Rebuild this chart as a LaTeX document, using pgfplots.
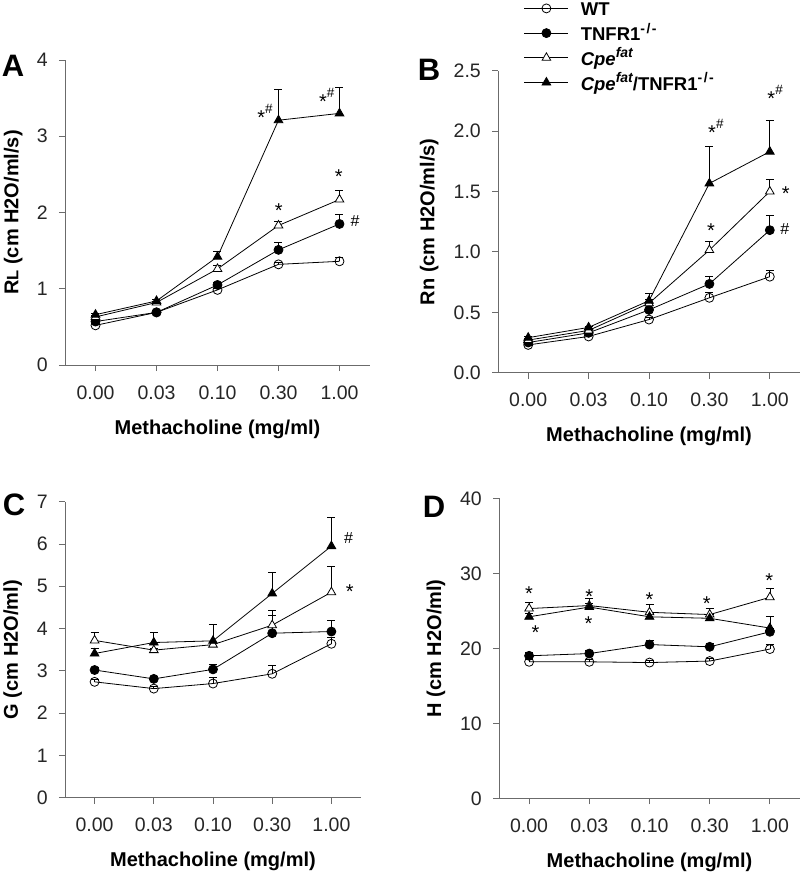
\documentclass[border=0pt]{standalone}
\usepackage{fontspec}
\setmainfont{Liberation Sans}
\usepackage{pgfplots}
\pgfplotsset{compat=1.18}
\definecolor{axgray}{gray}{0.42}
\pgfplotsset{
  panel/.style={
    scale only axis,
    clip=false,
    axis x line*=bottom, axis y line*=left,
    axis line style={axgray, line width=0.9bp},
    every tick/.style={axgray, line width=0.9bp},
    tick align=outside,
    major tick length=6bp,
    xmin=-0.5, xmax=4.5,
    xtick={0,1,2,3,4},
    xticklabels={0.00,0.03,0.10,0.30,1.00},
    /pgf/number format/assume math mode=true,
    tick label style={font=\fontsize{19.5bp}{20bp}\selectfont, text=black!85, inner sep=0pt},
    xticklabel style={anchor=center, yshift=-21.5bp},
    yticklabel style={anchor=east, xshift=-11bp},
    xlabel={Methacholine (mg/ml)},
    xlabel style={font=\bfseries\fontsize{20bp}{20bp}\selectfont, at={(axis description cs:0.5,0)}, anchor=center, yshift=-64bp},
    ylabel style={font=\bfseries\fontsize{20bp}{20bp}\selectfont, anchor=center},
    error bars/y dir=plus, error bars/y explicit,
    error bars/error bar style={black, line width=0.8bp, solid},
    error bars/error mark options={black, mark size=4bp, line width=0.8bp, rotate=90},
  },
  wt/.style={black, line width=0.8bp, mark=o, mark size=4.5bp, mark options={solid, black, fill=white, line width=0.8bp}},
  tn/.style={black, line width=0.8bp, mark=*, mark size=4.5bp, mark options={solid, black, fill=black}},
  cp/.style={black, line width=0.8bp, mark=triangle*, mark size=5bp, mark options={solid, black, fill=white, line width=0.8bp}},
  ct/.style={black, line width=0.8bp, mark=triangle*, mark size=5bp, mark options={solid, black, fill=black}},
}
\tikzset{
  ast/.style={font=\fontsize{20bp}{20bp}\selectfont, anchor=base, yshift=-11.5bp, inner sep=0pt},
  hsh/.style={font=\fontsize{16bp}{16bp}\selectfont, anchor=center, inner sep=0pt},
}
\newcommand{\sh}{\raisebox{11bp}{\fontsize{13.5bp}{13.5bp}\selectfont\#}}
\newcommand{\sps}[1]{\raisebox{7.5bp}{\fontsize{14bp}{14bp}\selectfont #1}}
\begin{document}
\begin{tikzpicture}
\path[use as bounding box] (0bp,0bp) rectangle (801bp,-873bp);
\node[font=\bfseries\fontsize{31bp}{31bp}\selectfont, anchor=center, inner sep=0pt] at (13bp,-66bp) {A};
\node[font=\bfseries\fontsize{31bp}{31bp}\selectfont, anchor=center, inner sep=0pt] at (429bp,-70bp) {B};
\node[font=\bfseries\fontsize{31bp}{31bp}\selectfont, anchor=center, inner sep=0pt] at (14bp,-505bp) {C};
\node[font=\bfseries\fontsize{31bp}{31bp}\selectfont, anchor=center, inner sep=0pt] at (434bp,-507bp) {D};

% ---------------- Panel A
\begin{axis}[panel, at={(65bp,-365bp)}, anchor=south west, width=305bp, height=305bp,
  ymin=0, ymax=4, ytick={0,1,2,3,4},
  ylabel={R{\fontsize{16.5bp}{16.5bp}\selectfont L} (cm H2O/ml/s)},
  ylabel style={at={([xshift=-51.7bp]axis description cs:0,0.5)}}]
\addplot[wt] coordinates {(0,0.52) +- (0,0.02) (1,0.69) +- (0,0.02) (2,0.985) +- (0,0.02) (3,1.32) +- (0,0.03) (4,1.36) +- (0,0.05)};
\addplot[tn] coordinates {(0,0.57) +- (0,0.02) (1,0.69) +- (0,0.02) (2,1.05) +- (0,0.03) (3,1.51) +- (0,0.10) (4,1.85) +- (0,0.12)};
\addplot[cp] coordinates {(0,0.63) +- (0,0.02) (1,0.82) +- (0,0.02) (2,1.26) +- (0,0.05) (3,1.83) +- (0,0.05) (4,2.17) +- (0,0.12)};
\addplot[ct] coordinates {(0,0.66) +- (0,0.02) (1,0.84) +- (0,0.02) (2,1.42) +- (0,0.07) (3,3.21) +- (0,0.40) (4,3.30) +- (0,0.34)};
\node[ast] at (axis cs:2.78,3.30) {*\sh};
\node[ast] at (axis cs:3.79,3.52) {*\sh};
\node[ast] at (axis cs:3.005,2.087) {*};
\node[ast] at (axis cs:3.99,2.537) {*};
\node[hsh] at (axis cs:4.257,1.894) {\#};
\end{axis}

% ---------------- Panel B
\begin{axis}[panel, at={(498bp,-372.7bp)}, anchor=south west, width=302bp, height=302bp,
  ymin=0, ymax=2.5, ytick={0,0.5,1,1.5,2,2.5},
  yticklabel style={/pgf/number format/.cd, fixed, fixed zerofill, precision=1},
  ylabel={Rn (cm H2O/ml/s)},
  ylabel style={at={([xshift=-68.7bp]axis description cs:0,0.5)}},
  legend style={at={(axis description cs:0.0861,1.2245)}, anchor=north west, draw=none, fill=none,
    inner sep=0pt, outer sep=0pt,
    font=\bfseries\fontsize{18.5bp}{18.5bp}\selectfont,
    nodes={inner sep=0pt, text height=13bp, text depth=3bp},
    row sep=8.7bp, column sep=12bp},
  legend cell align=left,
  legend image code/.code={\draw[mark repeat=2,mark phase=2] plot coordinates {(0bp,2.5bp) (22bp,2.5bp) (44bp,2.5bp)};}]
\addplot[wt] coordinates {(0,0.23) +- (0,0.01) (1,0.30) +- (0,0.01) (2,0.44) +- (0,0.02) (3,0.62) +- (0,0.045) (4,0.795) +- (0,0.05)};
\addlegendentry{WT}
\addplot[tn] coordinates {(0,0.25) +- (0,0.01) (1,0.33) +- (0,0.01) (2,0.52) +- (0,0.05) (3,0.735) +- (0,0.06) (4,1.18) +- (0,0.12)};
\addlegendentry{TNFR1\sps{-\kern1.5bp/\kern1.5bp-}}
\addplot[cp] coordinates {(0,0.27) +- (0,0.01) (1,0.35) +- (0,0.02) (2,0.575) +- (0,0.03) (3,1.015) +- (0,0.07) (4,1.50) +- (0,0.10)};
\addlegendentry{\textit{Cpe\sps{fat}}}
\addplot[ct] coordinates {(0,0.29) +- (0,0.01) (1,0.375) +- (0,0.01) (2,0.596) +- (0,0.06) (3,1.567) +- (0,0.31) (4,1.83) +- (0,0.26)};
\addlegendentry{\textit{Cpe\sps{fat}}/TNFR1\sps{-\kern1.5bp/\kern1.5bp-}}
\node[ast] at (axis cs:3.107,2.028) {*\sh};
\node[ast] at (axis cs:4.088,2.305) {*\sh};
\node[ast] at (axis cs:3.025,1.214) {*};
\node[ast] at (axis cs:4.264,1.523) {*};
\node[hsh] at (axis cs:4.248,1.192) {\#};
\end{axis}

% ---------------- Panel C
\begin{axis}[panel, at={(65bp,-797.7bp)}, anchor=south west, width=296bp, height=296bp,
  ymin=0, ymax=7, ytick={0,1,2,3,4,5,6,7},
  ylabel={G (cm H2O/ml)},
  ylabel style={at={([xshift=-52.3bp]axis description cs:0,0.5)}}]
\addplot[wt] coordinates {(0,2.74) +- (0,0.05) (1,2.58) +- (0,0.05) (2,2.70) +- (0,0.15) (3,2.93) +- (0,0.20) (4,3.64) +- (0,0.15)};
\addplot[tn] coordinates {(0,3.02) +- (0,0.05) (1,2.81) +- (0,0.05) (2,3.035) +- (0,0.12) (3,3.89) +- (0,0.43) (4,3.93) +- (0,0.26)};
\addplot[cp] coordinates {(0,3.72) +- (0,0.18) (1,3.49) +- (0,0.05) (2,3.62) +- (0,0.06) (3,4.08) +- (0,0.36) (4,4.86) +- (0,0.62)};
\addplot[ct] coordinates {(0,3.41) +- (0,0.11) (1,3.67) +- (0,0.25) (2,3.71) +- (0,0.40) (3,4.83) +- (0,0.50) (4,5.95) +- (0,0.67)};
\node[hsh] at (axis cs:4.29,6.15) {\#};
\node[ast] at (axis cs:4.31,4.99) {*};
\end{axis}

% ---------------- Panel D
\begin{axis}[panel, at={(499bp,-798.3bp)}, anchor=south west, width=301bp, height=300bp,
  ymin=0, ymax=40, ytick={0,10,20,30,40},
  ylabel={H (cm H2O/ml)},
  ylabel style={at={([xshift=-63bp]axis description cs:0,0.5)}}]
\addplot[wt] coordinates {(0,18.2) +- (0,0.3) (1,18.2) +- (0,0.3) (2,18.1) +- (0,0.3) (3,18.3) +- (0,0.4) (4,19.9) +- (0,0.6)};
\addplot[tn] coordinates {(0,19.0) +- (0,0.4) (1,19.3) +- (0,0.4) (2,20.5) +- (0,0.5) (3,20.2) +- (0,0.4) (4,22.2) +- (0,0.5)};
\addplot[cp] coordinates {(0,25.3) +- (0,0.85) (1,25.7) +- (0,1.0) (2,24.8) +- (0,1.1) (3,24.5) +- (0,0.85) (4,26.8) +- (0,1.2)};
\addplot[ct] coordinates {(0,24.2) +- (0,0.4) (1,25.5) +- (0,0.5) (2,24.2) +- (0,0.5) (3,24.0) +- (0,0.5) (4,22.7) +- (0,1.5)};
\node[ast] at (axis cs:0.0,27.87) {*};
\node[ast] at (axis cs:0.105,22.75) {*};
\node[ast] at (axis cs:1.0,27.55) {*};
\node[ast] at (axis cs:0.985,23.87) {*};
\node[ast] at (axis cs:2.0,27.1) {*};
\node[ast] at (axis cs:2.95,26.53) {*};
\node[ast] at (axis cs:3.99,29.64) {*};
\end{axis}
\end{tikzpicture}
\end{document}
